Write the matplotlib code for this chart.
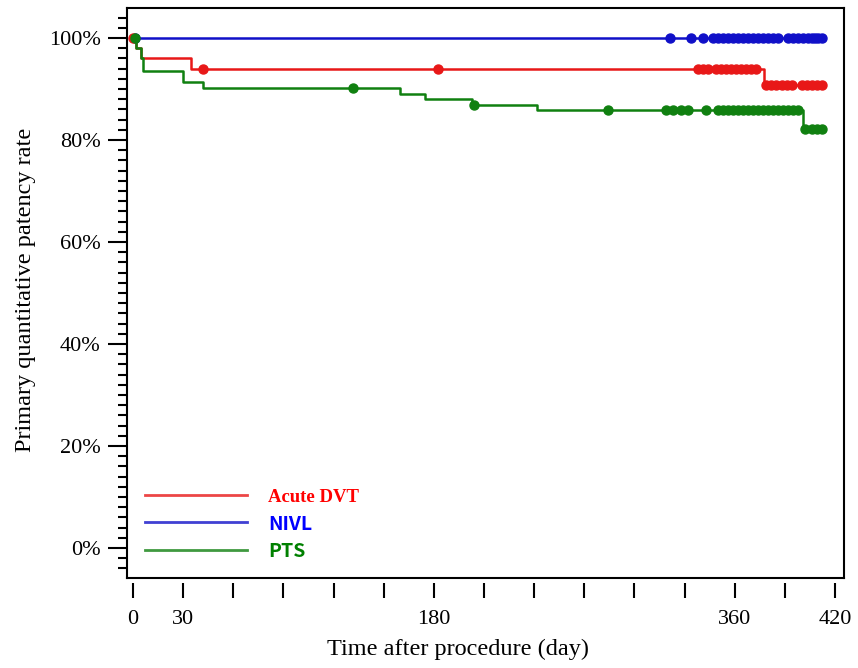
import numpy as np
import matplotlib
matplotlib.use("Agg")
import matplotlib.pyplot as plt
from matplotlib.ticker import MultipleLocator, FixedLocator

# Kaplan-Meier step data (day, patency %)
dvt_times = [0, 1.8, 4.6, 34.7, 377.6]
dvt_surv = [100, 98.0, 96.0, 93.9, 90.8]
dvt_censor = [0, 42, 182.5, 338, 341, 344, 349, 352, 355, 358, 361, 364, 367,
              370, 373, 379, 382, 385, 388, 391, 394, 400, 403, 406, 409, 412]

nivl_times = [0]
nivl_surv = [100]
nivl_censor = [1, 321, 334, 341, 347, 350, 353, 356, 359, 362, 365, 368, 371,
               374, 377, 380, 383, 386, 392, 395, 398, 401, 404, 406, 408, 410, 412]

pts_times = [0, 1.8, 4.6, 6.0, 29.7, 42, 159.8, 175, 203, 242, 401]
pts_surv = [100, 98.0, 96.0, 93.6, 91.4, 90.2, 89.1, 88.0, 86.9, 85.9, 82.2]
pts_censor = [1, 131.5, 204, 284, 319, 323, 328, 332, 343, 350, 353, 356, 359,
              362, 365, 368, 371, 374, 377, 380, 383, 386, 389, 392, 395, 398,
              402, 406, 409, 412]

end_day = 413
x_labels = {0: "0", 30: "30", 180: "180", 360: "360", 420: "420"}

groups = [
    ("NIVL", nivl_times, nivl_surv, nivl_censor, "#1010c8", "#0000ff"),
    ("Acute DVT", dvt_times, dvt_surv, dvt_censor, "#e81818", "#ff0000"),
    ("PTS", pts_times, pts_surv, pts_censor, "#108010", "#008000"),
]

plt.rcParams["font.family"] = ["Liberation Serif", "DejaVu Serif"]

fig = plt.figure(figsize=(8.58, 6.68), dpi=100)
ax = fig.add_axes([0.148, 0.1347, 0.8357, 0.8533])

handles = {}
for name, t, s, cens, col, _ in groups:
    tt = list(t) + [end_day]
    ss = list(s) + [s[-1]]
    line, = ax.step(tt, ss, where="post", color=col, lw=1.8, label=name)
    idx = np.searchsorted(t, cens, side="right") - 1
    cy = np.array(s)[idx]
    ax.plot(cens, cy, "o", color=col, ms=6.5, mec=col)
    handles[name] = line

ax.set_xlim(-3.6, 425.4)
ax.set_ylim(-5.9, 105.9)

ax.yaxis.set_minor_locator(MultipleLocator(2))
ax.set_yticks([0, 20, 40, 60, 80, 100])
ax.set_yticklabels([f"{v}%" for v in [0, 20, 40, 60, 80, 100]])
ax.tick_params(axis="y", which="major", direction="out", length=14, width=1.5,
               labelsize=16, pad=5)
ax.tick_params(axis="y", which="minor", direction="out", length=6.5, width=1.5)
ax.tick_params(axis="x", which="both", length=0, labelbottom=False)

for sp in ax.spines.values():
    sp.set_linewidth(1.5)

# x ticks sit slightly below the frame
sec = ax.secondary_xaxis(-0.008)
sec.spines["bottom"].set_visible(False)
sec.xaxis.set_major_locator(FixedLocator(np.arange(0, 421, 30)))
sec.set_xticklabels([x_labels.get(v, "") for v in range(0, 421, 30)])
sec.tick_params(axis="x", direction="out", length=11, width=1.5,
                labelsize=16, pad=9)

ax.set_ylabel("Primary quantitative patency rate", fontsize=17.5)
ax.yaxis.set_label_coords(-0.127, 0.505)
sec.set_xlabel("Time after procedure (day)", fontsize=17.5, labelpad=7)
sec.xaxis.label.set_x(0.461)

leg = ax.legend([handles["Acute DVT"], handles["NIVL"], handles["PTS"]],
                ["Acute DVT", "NIVL", "PTS"],
                loc="lower left", bbox_to_anchor=(0.025, 0.03),
                borderpad=0, borderaxespad=0,
                frameon=False, handlelength=4.9, handletextpad=1.0,
                labelspacing=0.4, fontsize=15)
text_colors = ["#ff0000", "#0000ff", "#008000"]
for txt, c in zip(leg.get_texts(), text_colors):
    txt.set_color(c)
    txt.set_fontweight("bold")
leg.get_texts()[0].set_fontsize(13.5)
for txt in leg.get_texts()[1:]:
    txt.set_family(["Noto Sans CJK JP", "DejaVu Sans"])
    txt.set_fontsize(14)
for ln in leg.get_lines():
    ln.set_linewidth(2)
    ln.set_alpha(0.8)

fig.savefig("out.png", dpi=100)
